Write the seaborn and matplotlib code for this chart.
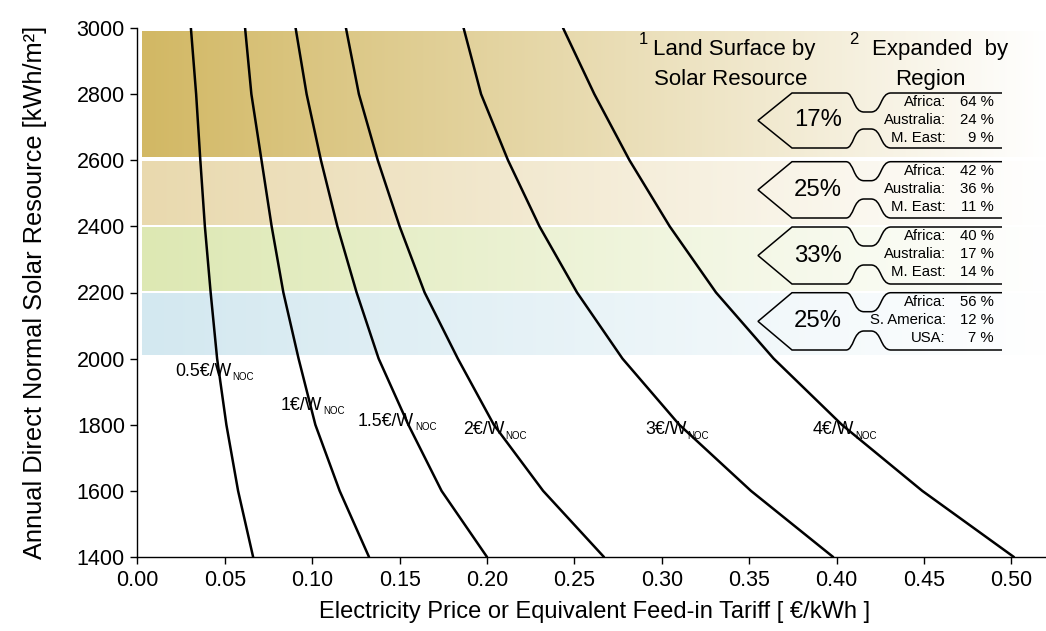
import numpy as np
import pandas as pd
import matplotlib
matplotlib.use("Agg")
import matplotlib.pyplot as plt
from matplotlib.path import Path
from matplotlib.patches import PathPatch
from matplotlib.ticker import FormatStrFormatter
import seaborn as sns

# ---------------- data ----------------
dni = [1400, 1600, 1800, 2000, 2200, 2400, 2600, 2800, 3000]
price_05 = [0.0662, 0.0576, 0.0509, 0.0456, 0.0419, 0.0386, 0.0360, 0.0336, 0.0306]
price_1 = [0.1325, 0.1157, 0.1018, 0.0922, 0.0835, 0.0768, 0.0710, 0.0652, 0.0616]
price_15 = [0.2000, 0.1740, 0.1550, 0.1380, 0.1254, 0.1144, 0.1050, 0.0968, 0.0905]
price_2 = [0.2669, 0.2321, 0.2039, 0.1833, 0.1643, 0.1500, 0.1375, 0.1267, 0.1193]
price_3 = [0.3980, 0.3510, 0.3100, 0.2775, 0.2515, 0.2300, 0.2120, 0.1966, 0.1866]
price_4 = [0.5014, 0.4490, 0.4030, 0.3640, 0.3310, 0.3045, 0.2815, 0.2614, 0.2435]
cost_labels = ["0.5€/W", "1€/W", "1.5€/W", "2€/W", "3€/W", "4€/W"]

band_low = [2610, 2405, 2205, 2010]
band_high = [2990, 2597, 2397, 2197]
land_share = ["17%", "25%", "33%", "25%"]
region_names = [["Africa:", "Australia:", "M. East:"],
                ["Africa:", "Australia:", "M. East:"],
                ["Africa:", "Australia:", "M. East:"],
                ["Africa:", "S. America:", "USA:"]]
region_share = [[64, 24, 9], [42, 36, 11], [40, 17, 14], [56, 12, 7]]

x_ticks = [0.00, 0.05, 0.10, 0.15, 0.20, 0.25, 0.30, 0.35, 0.40, 0.45, 0.50]
y_ticks = [1400, 1600, 1800, 2000, 2200, 2400, 2600, 2800, 3000]

all_prices = [price_05, price_1, price_15, price_2, price_3, price_4]
df = pd.concat([pd.DataFrame({"price": p, "dni": dni, "cost": lab})
                for p, lab in zip(all_prices, cost_labels)], ignore_index=True)

# ---------------- style ----------------
sns.set_style("ticks")
plt.rcParams["font.family"] = ["Liberation Sans", "DejaVu Sans"]
plt.rcParams["text.color"] = "black"
plt.rcParams["axes.labelcolor"] = "black"
plt.rcParams["xtick.color"] = "black"
plt.rcParams["ytick.color"] = "black"

W, H = 1046, 631
fig = plt.figure(figsize=(W / 100, H / 100), dpi=100)
L, B, R, T = 137.4, 557.0, 1046.4, 28.0
XMAX = 0.52
ax = fig.add_axes([L / W, 1 - B / H, (R - L) / W, (B - T) / H])


def px2x(px):
    return (px - L) / (R - L) * XMAX


def py2y(py):
    return 1400 + (B - py) / (B - T) * 1600


# gradient bands
band_colors = ["#d2b864", "#e9d9ae", "#dde8b3", "#d3e8f0"]
for lo, hi, col in zip(band_low, band_high, band_colors):
    c = np.array(matplotlib.colors.to_rgb(col))
    t = np.linspace(0, 1, 256)[:, None]
    rgb = c[None, :] * (1 - t) + np.ones(3)[None, :] * t
    img = rgb[None, :, :]
    ax.imshow(img, extent=(px2x(141.5), XMAX, lo, hi), aspect="auto",
              interpolation="bilinear", zorder=0)

# curves
sns.lineplot(data=df, x="price", y="dni", units="cost", estimator=None,
             sort=False, color="black", linewidth=1.8, ax=ax, legend=False,
             zorder=3)

ax.set_xlim(0, XMAX)
ax.set_ylim(1400, 3000)
ax.set_xticks(x_ticks)
ax.set_yticks(y_ticks)
ax.xaxis.set_major_formatter(FormatStrFormatter("%.2f"))
ax.tick_params(direction="out", length=5, width=1, labelsize=15.5, colors="black", pad=4)
for s in ["top", "right"]:
    ax.spines[s].set_visible(False)
for s in ["left", "bottom"]:
    ax.spines[s].set_linewidth(1.0)
    ax.spines[s].set_color("black")

ax.set_xlabel("Electricity Price or Equivalent Feed-in Tariff [ €/kWh ]", fontsize=17, va="center")
ax.xaxis.set_label_coords(0.503, -(612 - B) / (B - T))
ax.set_ylabel("Annual Direct Normal Solar Resource [kWh/m²]", fontsize=18.3, va="center")
ax.yaxis.set_label_coords((35 - L) / (R - L), 0.5)

# callouts
tops = [93.0, 161.7, 227.0, 292.7]
bots = [148.0, 218.0, 284.0, 350.0]
for i in range(4):
    t, b = tops[i], bots[i]
    m = (t + b) / 2
    d = 19
    pts = [
        ((1002, t), Path.MOVETO),
        ((891, t), Path.LINETO),
        ((880, t), Path.CURVE4), ((882, t + d), Path.CURVE4), ((871, t + d), Path.CURVE4),
        ((864, t + d), Path.LINETO),
        ((853, t + d), Path.CURVE4), ((854, t), Path.CURVE4), ((846, t), Path.CURVE4),
        ((792, t), Path.LINETO),
        ((758, m), Path.LINETO),
        ((792, b), Path.LINETO),
        ((846, b), Path.LINETO),
        ((854, b), Path.CURVE4), ((853, b - d), Path.CURVE4), ((864, b - d), Path.CURVE4),
        ((871, b - d), Path.LINETO),
        ((882, b - d), Path.CURVE4), ((880, b), Path.CURVE4), ((891, b), Path.CURVE4),
        ((1002, b), Path.LINETO),
    ]
    verts = [(px2x(x), py2y(y)) for (x, y), _ in pts]
    codes = [c for _, c in pts]
    ax.add_patch(PathPatch(Path(verts, codes), fill=False, edgecolor="black",
                           linewidth=1.1, zorder=4))
    ax.text(px2x(818), py2y(m), land_share[i], fontsize=17.2, ha="center", va="center", zorder=5)
    for j in range(3):
        yy = py2y(t + 9.5 + 17.8 * j)
        ax.text(px2x(946), yy, region_names[i][j], fontsize=10.7, ha="right", va="center", zorder=5)
        ax.text(px2x(994), yy, f"{region_share[i][j]} %", fontsize=10.7, ha="right", va="center", zorder=5)

# headers
fig.text(643 / W, 1 - 39 / H, "1", fontsize=12, ha="center", va="center")
fig.text(653 / W, 1 - 55 / H, "Land Surface by", fontsize=16, ha="left", va="baseline")
fig.text(731 / W, 1 - 85 / H, "Solar Resource", fontsize=16, ha="center", va="baseline")
fig.text(854 / W, 1 - 39 / H, "2", fontsize=12, ha="center", va="center")
fig.text(872 / W, 1 - 55 / H, "Expanded  by", fontsize=16, ha="left", va="baseline")
fig.text(930 / W, 1 - 85 / H, "Region", fontsize=16, ha="center", va="baseline")

# curve labels: (left px, centre px, width of main text in em at Arial metrics)
LAB_PT = 12.8
label_pos = [(175, 371, 3.168), (281, 405, 2.334), (358, 421, 3.168),
             (463, 430, 2.334), (645, 430, 2.334), (813, 430, 2.334)]
for lab, (lx, ly, em) in zip(cost_labels, label_pos):
    fig.text(lx / W, 1 - ly / H, lab, fontsize=LAB_PT, ha="left", va="center", zorder=6)
    wpx = em * LAB_PT * 100 / 72
    fig.text((lx + wpx + 0.5) / W, 1 - (ly + 6) / H, "NOC", fontsize=7, ha="left", va="center", zorder=6)

fig.savefig("out.png", dpi=100)
